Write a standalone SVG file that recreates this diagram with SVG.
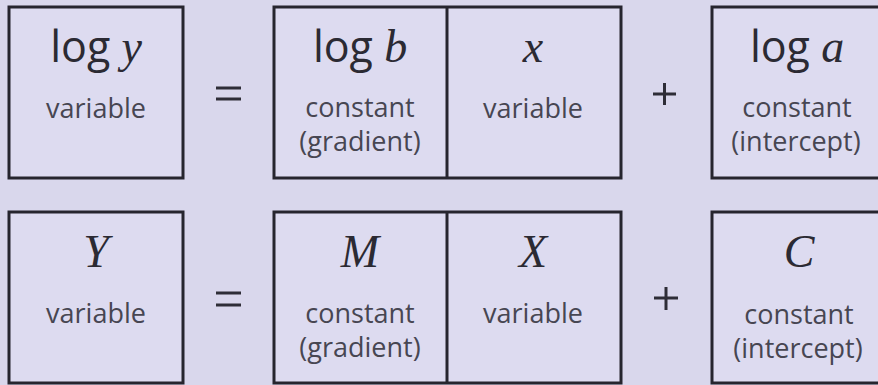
<svg xmlns="http://www.w3.org/2000/svg" width="878" height="385" viewBox="0 0 878 385">
<style>
.box{fill:#dddbf0;stroke:#26252e;stroke-width:3}
.div{stroke:#26252e;stroke-width:3}
.lbl{font-family:"Open Sans","Liberation Sans",sans-serif;font-size:27px;fill:#474652;text-anchor:middle}
.log{font-family:"Open Sans","Liberation Sans",sans-serif;font-size:43px;fill:#2b2a33;text-anchor:middle}
.var{font-family:"Liberation Serif",serif;font-style:italic;font-size:46px;fill:#2b2a33}
.op{stroke:#2e2d37;stroke-width:3}
</style>
<rect x="0" y="0" width="878" height="385" fill="#d9d7ec"/>
<g id="row1-lhs">
<rect class="box" x="9" y="7" width="174" height="171"/>
<text class="log" x="96" y="62">log <tspan class="var">y</tspan></text>
<text class="lbl" x="96" y="118">variable</text>
</g>
<g id="row1-eq"><line class="op" x1="216" y1="88" x2="241" y2="88"/><line class="op" x1="216" y1="99" x2="241" y2="99"/></g>
<g id="row1-product">
<rect class="box" x="274" y="7" width="347" height="171"/>
<line class="div" x1="447" y1="7" x2="447" y2="178"/>
<text class="log" x="360" y="62">log <tspan class="var">b</tspan></text>
<text class="lbl" x="360" y="117">constant</text>
<text class="lbl" x="360" y="151">(gradient)</text>
<text class="var" x="533" y="62" text-anchor="middle">x</text>
<text class="lbl" x="533" y="118">variable</text>
</g>
<g id="row1-plus"><line class="op" x1="653" y1="94" x2="676" y2="94"/><line class="op" x1="664.5" y1="83" x2="664.5" y2="105"/></g>
<g id="row1-intercept">
<rect class="box" x="712" y="7" width="180" height="171"/>
<text class="log" x="797" y="62">log <tspan class="var">a</tspan></text>
<text class="lbl" x="797" y="117">constant</text>
<text class="lbl" x="796" y="151">(intercept)</text>
</g>
<g id="row2-lhs">
<rect class="box" x="9" y="212" width="174" height="171"/>
<text class="var" x="96" y="267" text-anchor="middle">Y</text>
<text class="lbl" x="96" y="323">variable</text>
</g>
<g id="row2-eq"><line class="op" x1="216" y1="293" x2="241" y2="293"/><line class="op" x1="216" y1="305" x2="241" y2="305"/></g>
<g id="row2-product">
<rect class="box" x="274" y="212" width="347" height="171"/>
<line class="div" x1="447" y1="212" x2="447" y2="383"/>
<text class="var" x="360" y="267" text-anchor="middle">M</text>
<text class="lbl" x="360" y="323">constant</text>
<text class="lbl" x="360" y="357">(gradient)</text>
<text class="var" x="533" y="267" text-anchor="middle">X</text>
<text class="lbl" x="533" y="323">variable</text>
</g>
<g id="row2-plus"><line class="op" x1="654" y1="298" x2="678" y2="298"/><line class="op" x1="666" y1="287" x2="666" y2="310"/></g>
<g id="row2-intercept">
<rect class="box" x="712" y="212" width="180" height="171"/>
<text class="var" x="799" y="267" text-anchor="middle">C</text>
<text class="lbl" x="799" y="324">constant</text>
<text class="lbl" x="798" y="358">(intercept)</text>
</g>
<g id="connectors"></g>
</svg>
